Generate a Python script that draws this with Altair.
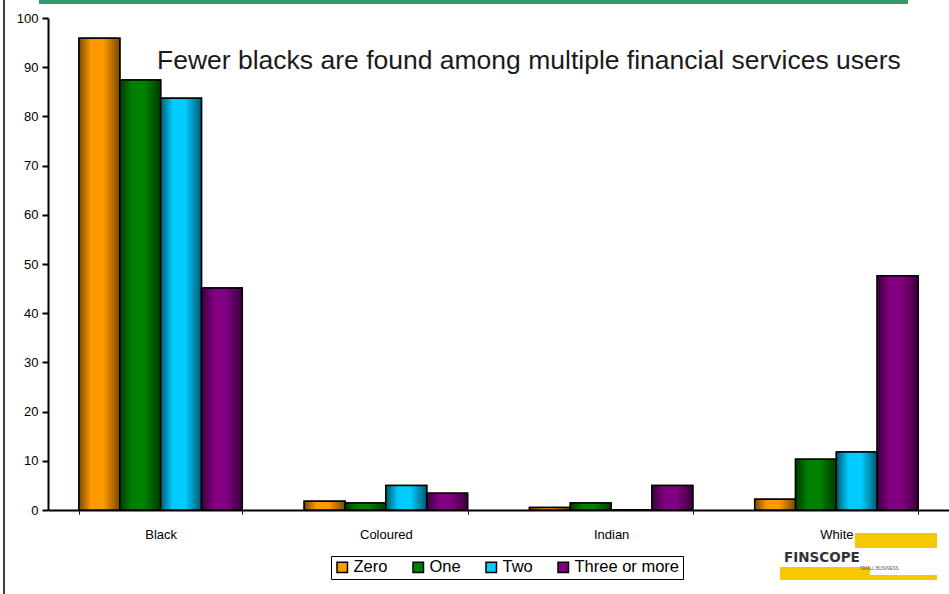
import altair as alt
import pandas as pd

groups = ["Black", "Coloured", "Indian", "White"]
series = ["Zero", "One", "Two", "Three or more"]
colors = ["#FF9900", "#008000", "#00CCFF", "#800080"]
dark = ["#7A4A00", "#003A00", "#005A70", "#3A003A"]
zero = [95.9, 1.8, 0.5, 2.2]
one = [87.4, 1.4, 1.4, 10.3]
two = [83.7, 5.0, 0.0, 11.8]
three = [45.1, 3.4, 5.0, 47.6]
title_text = "Fewer blacks are found among multiple financial services users"

rows = []
for s, vals in zip(series, [zero, one, two, three]):
    for g, v in zip(groups, vals):
        rows.append({"group": g, "series": s, "value": v})
df = pd.DataFrame(rows)

W, H = 901, 492

x = alt.X("group:N", sort=groups, title=None,
          scale=alt.Scale(paddingInner=0.275, paddingOuter=0.1375),
          axis=alt.Axis(labelAngle=0, labelFontSize=13, labelFont="Liberation Sans",
                        labelColor="#000", domainColor="#000", domainWidth=2,
                        tickColor="#000", tickSize=4, tickBand="extent",
                        labelPadding=14, grid=False))
xo = alt.XOffset("series:N", sort=series, scale=alt.Scale(domain=series, paddingInner=0, paddingOuter=0))
y = alt.Y("value:Q", title=None,
          scale=alt.Scale(domain=[0, 100], nice=False),
          axis=alt.Axis(values=list(range(0, 101, 10)), grid=False, labelFontSize=13,
                        labelFont="Liberation Sans", labelColor="#000",
                        domainColor="#000", domainWidth=2, tickColor="#000",
                        tickSize=6, tickWidth=2, labelPadding=4))

base = alt.Chart(df).mark_bar(stroke="#000", strokeWidth=1.5).encode(
    x=x, xOffset=xo, y=y,
    color=alt.Color("series:N", sort=series,
                    scale=alt.Scale(domain=series, range=colors),
                    legend=alt.Legend(title=None, orient="none", legendX=283, legendY=538,
                                      direction="horizontal", symbolType="square",
                                      symbolSize=110, symbolStrokeColor="#000",
                                      symbolStrokeWidth=1.5, labelFontSize=16.5,
                                      labelFont="Liberation Sans", labelColor="#000",
                                      strokeColor="#000", padding=3, columnPadding=22,
                                      labelOffset=3, symbolOpacity=1,
                                      fillColor="#ffffff")),
)

layers = [base]
for s, c, d in zip(series, colors, dark):
    grad = alt.Gradient(gradient="linear", x1=0, x2=1, y1=0, y2=0,
                        stops=[alt.GradientStop(color=d, offset=0),
                               alt.GradientStop(color=c, offset=0.3),
                               alt.GradientStop(color=c, offset=0.6),
                               alt.GradientStop(color=d, offset=1)])
    layers.append(
        alt.Chart(df).transform_filter(alt.datum.series == s)
        .mark_bar(fill=grad, stroke="#000", strokeWidth=1.5)
        .encode(x=x, xOffset=xo, y=y)
    )

deco = pd.DataFrame({"t": [title_text]})
title = alt.Chart(deco).mark_text(align="left", baseline="middle", fontSize=26.5,
                                  font="Liberation Sans", color="#1a1a1a").encode(
    x=alt.value(109), y=alt.value(43), text="t:N")

green = alt.Chart(deco).mark_rect(color="#339966").encode(
    x=alt.value(-9), x2=alt.value(860), y=alt.value(-18), y2=alt.value(-14))
leftline = alt.Chart(deco).mark_rule(color="#000", strokeWidth=1.5).encode(
    x=alt.value(-44), y=alt.value(-18), y2=alt.value(576))

logo_top = alt.Chart(deco).mark_rect(color="#F5C800").encode(
    x=alt.value(807), x2=alt.value(889), y=alt.value(515), y2=alt.value(530))
logo_bot = alt.Chart(deco).mark_rect(color="#F5C800").encode(
    x=alt.value(732), x2=alt.value(822), y=alt.value(549), y2=alt.value(562))
logo_bot2 = alt.Chart(deco).mark_rect(color="#F5C800").encode(
    x=alt.value(822), x2=alt.value(889), y=alt.value(557), y2=alt.value(562))
logo_txt = alt.Chart(pd.DataFrame({"t": ["FINSCOPE"]})).mark_text(
    align="left", baseline="middle", fontSize=13.5, fontWeight="bold",
    font="DejaVu Sans", color="#333").encode(
    x=alt.value(736), y=alt.value(540), text="t:N")
logo_sub = alt.Chart(pd.DataFrame({"t": ["SMALL BUSINESS"]})).mark_text(
    align="left", baseline="middle", fontSize=4.5, font="Liberation Sans",
    color="#555").encode(x=alt.value(812), y=alt.value(551), text="t:N")

chart = alt.layer(green, leftline, *layers, title, logo_top, logo_bot, logo_bot2,
                  logo_txt, logo_sub).properties(
    width=W, height=H,
    background="#ffffff",
    autosize=alt.AutoSizeParams(type="none"),
    padding={"left": 48, "top": 18, "right": 0, "bottom": 84},
).configure_view(stroke="#ffffff", strokeWidth=1, strokeOpacity=0)

chart.save("out.html", embed_options={"renderer": "svg", "actions": False})
